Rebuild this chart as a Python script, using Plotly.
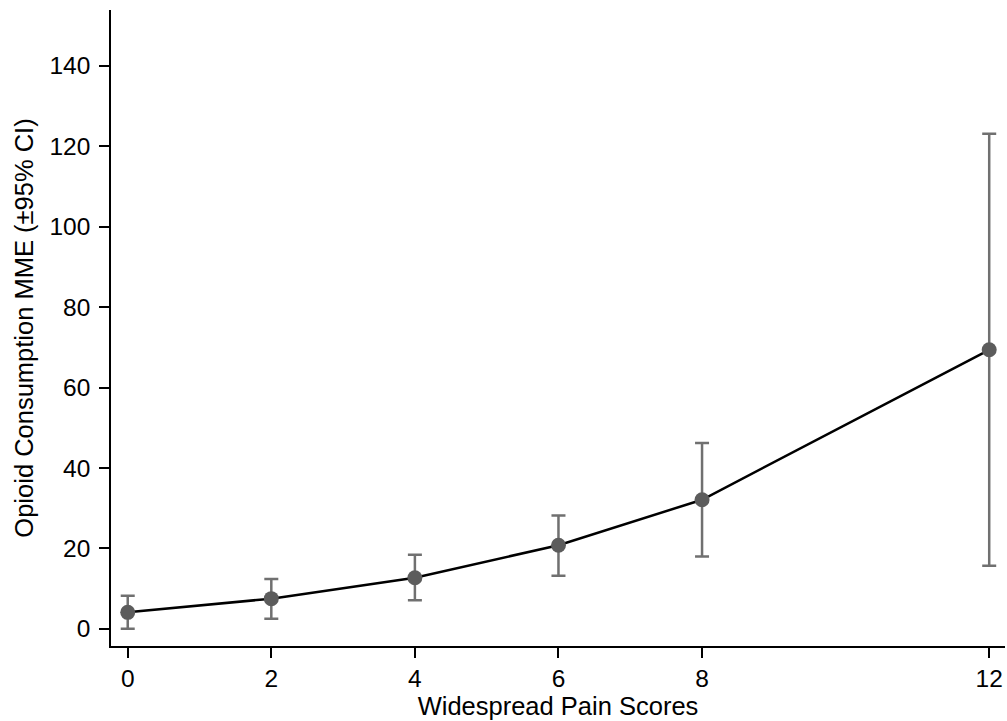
import plotly.graph_objects as go

scores = [0, 2, 4, 6, 8, 12]
mme = [4.1, 7.5, 12.7, 20.8, 32.1, 69.4]
ci_upper = [8.2, 12.4, 18.4, 28.2, 46.2, 123.1]
ci_lower = [0.0, 2.5, 7.1, 13.2, 18.0, 15.7]
x_ticks = [0, 2, 4, 6, 8, 12]
y_ticks = [0, 20, 40, 60, 80, 100, 120, 140]

err_plus = [u - m for u, m in zip(ci_upper, mme)]
err_minus = [m - l for m, l in zip(mme, ci_lower)]

font_family = "Liberation Sans, Arial, Helvetica, sans-serif"

fig = go.Figure()
fig.add_trace(go.Scatter(
    x=scores, y=mme, mode="lines+markers",
    line=dict(color="black", width=2.5),
    marker=dict(size=15, color="#5c5c5c"),
    error_y=dict(type="data", symmetric=False, array=err_plus, arrayminus=err_minus,
                 color="#707070", thickness=2.5, width=7),
    showlegend=False,
))

fig.update_layout(
    width=1007, height=721,
    margin=dict(l=111, r=2, t=10, b=75),
    paper_bgcolor="white", plot_bgcolor="white",
    font=dict(family=font_family, size=25, color="black"),
)
fig.update_xaxes(
    range=[-0.233, 12.22], tickvals=x_ticks, ticktext=[str(v) for v in x_ticks],
    showgrid=False, zeroline=False, showline=True, linecolor="black", linewidth=1.5,
    ticks="outside", ticklen=10, tickwidth=1.5, tickcolor="black",
    tickfont=dict(size=24.5), ticklabelstandoff=0,
    title=dict(text="Widespread Pain Scores", font=dict(size=25.5), standoff=0),
)
fig.update_yaxes(
    range=[-4.27, 153.9], tickvals=y_ticks, ticktext=[str(v) for v in y_ticks],
    showgrid=False, zeroline=False, showline=True, linecolor="black", linewidth=1.5,
    ticks="outside", ticklen=10, tickwidth=1.5, tickcolor="black",
    tickfont=dict(size=24.5), ticklabelstandoff=4,
    title=dict(text="Opioid Consumption MME (±95% CI)", font=dict(size=25.5), standoff=9),
)

fig.write_html("out.html")
